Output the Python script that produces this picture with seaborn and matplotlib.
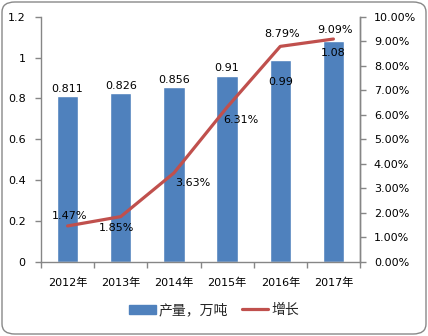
import matplotlib
matplotlib.use("Agg")
import matplotlib.pyplot as plt
import seaborn as sns
import numpy as np
import pandas as pd
from matplotlib.patches import FancyBboxPatch, Patch
from matplotlib.lines import Line2D
from matplotlib.ticker import FuncFormatter, FixedLocator

years = ["2012年", "2013年", "2014年", "2015年", "2016年", "2017年"]
output = [0.811, 0.826, 0.856, 0.91, 0.99, 1.08]
growth = [1.47, 1.85, 3.63, 6.31, 8.79, 9.09]
bar_labels = ["0.811", "0.826", "0.856", "0.91", "0.99", "1.08"]
growth_labels = ["1.47%", "1.85%", "3.63%", "6.31%", "8.79%", "9.09%"]

sns.set_theme(style="white")
plt.rcParams['font.family'] = ['DejaVu Sans', 'Noto Sans CJK SC']
fs = 8

fig = plt.figure(figsize=(4.28, 3.36), dpi=100)
W, H = 428, 336
ax = fig.add_axes([41 / W, 1 - 262 / H, (360 - 41) / W, (262 - 16.7) / H])
fig.patches.append(FancyBboxPatch((2 / W, 2 / H), (W - 4) / W, (H - 4) / H,
                                  boxstyle="round,pad=0,rounding_size=0.03",
                                  transform=fig.transFigure, fc="white", ec="#888888", lw=1.0, zorder=-10))

df = pd.DataFrame({"year": years, "output": output})
sns.barplot(data=df, x="year", y="output", color="#4F81BD", width=0.4, saturation=1, ax=ax)
ax.set_xlim(-0.5, 5.5)
ax.set_ylim(0, 1.2)
ax.set_yticks([0, 0.2, 0.4, 0.6, 0.8, 1.0, 1.2])
ax.yaxis.set_major_formatter(FuncFormatter(lambda v, p: f"{v:g}"))
ax.set_xlabel("")
ax.set_ylabel("")
ax.patch.set_alpha(0)

ax2 = ax.twinx()
sns.lineplot(x=np.arange(len(years)), y=growth, color="#C0504D", lw=2.3, ax=ax2)
ax2.set_ylim(0, 10)
ax2.set_yticks(np.arange(0, 11, 1))
ax2.yaxis.set_major_formatter(FuncFormatter(lambda v, p: f"{v:.2f}%"))
ax2.set_xlim(-0.5, 5.5)

for a in (ax, ax2):
    a.spines["top"].set_visible(False)
    for s in ["left", "right", "bottom"]:
        a.spines[s].set_color("#868686")
        a.spines[s].set_linewidth(1)
ax2.spines["left"].set_visible(False)
ax2.spines["bottom"].set_visible(False)

ax.tick_params(axis="y", which="both", left=True, length=4, width=1, color="#868686", labelsize=fs, pad=7, labelcolor="black")
ax2.tick_params(axis="y", right=True, length=4, width=1, color="#868686", labelsize=fs, pad=6, labelcolor="black")
ax.xaxis.set_minor_locator(FixedLocator(np.arange(-0.5, 6, 1)))
ax.tick_params(axis="x", which="major", bottom=False, labelsize=fs, pad=5, labelcolor="black")
ax.tick_params(axis="x", which="minor", bottom=True, length=4, width=1, color="#868686")

# bar labels (offsets in pixels from bar top)
bar_off = [7, 7, 7, 8, -22, -12]
for i, (v, t) in enumerate(zip(output, bar_labels)):
    ax.annotate(t, (i, v), xytext=(0, bar_off[i]), textcoords="offset pixels",
                ha="center", va="center", fontsize=fs, color="black")

# growth labels (offsets in pixels from points)
g_off = [(2, 10), (-4, -11), (19, -10), (14, -13), (2, 12), (2, 9)]
for i, (v, t) in enumerate(zip(growth, growth_labels)):
    ax2.annotate(t, (i, v), xytext=g_off[i], textcoords="offset pixels",
                 ha="center", va="center", fontsize=fs, color="black")

handles = [Patch(color="#4F81BD"), Line2D([0], [0], color="#C0504D", lw=2.3)]
fig.legend(handles, ["产量，万吨", "增长"], loc="center", bbox_to_anchor=(0.5, 1 - 310 / H),
           ncol=2, frameon=False, fontsize=fs + 2, handlelength=1.9, handleheight=0.6,
           columnspacing=1.0, handletextpad=0.2)

fig.savefig("out.png", dpi=100)
